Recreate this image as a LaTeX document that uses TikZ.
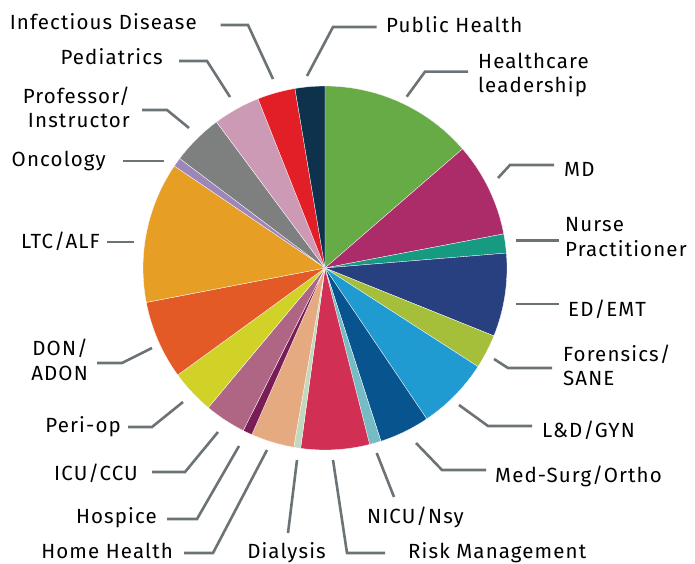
\documentclass[tikz,border=0pt]{standalone}
\usepackage{fontspec}
\setmainfont[LetterSpace=5.5]{Fira Sans}
\definecolor{leadgray}{HTML}{6B7376}
\definecolor{cHC}{HTML}{67AB46}
\definecolor{cMD}{HTML}{AC2C6A}
\definecolor{cNP}{HTML}{169A82}
\definecolor{cED}{HTML}{283F80}
\definecolor{cFO}{HTML}{A6BF3A}
\definecolor{cLD}{HTML}{1F9BD1}
\definecolor{cMS}{HTML}{07548E}
\definecolor{cNI}{HTML}{76BCC4}
\definecolor{cRM}{HTML}{D13054}
\definecolor{cDI}{HTML}{C2D8C0}
\definecolor{cHH}{HTML}{E6AA80}
\definecolor{cHO}{HTML}{7A1D56}
\definecolor{cIC}{HTML}{AE6684}
\definecolor{cPO}{HTML}{D0D228}
\definecolor{cDO}{HTML}{E45A27}
\definecolor{cLT}{HTML}{E79E24}
\definecolor{cON}{HTML}{9D87B8}
\definecolor{cPR}{HTML}{7E8080}
\definecolor{cPE}{HTML}{CD9AB6}
\definecolor{cID}{HTML}{E21F27}
\definecolor{cPH}{HTML}{0F324C}
\begin{document}
\begin{tikzpicture}[x=1pt,y=-1pt,
  lead/.style={draw=leadgray, line width=2.6pt},
  lab/.style={inner sep=0pt, font=\fontsize{20.5}{24.4}\selectfont, text=black},
  labR/.style={lab, anchor=base west, align=left},
  labL/.style={lab, anchor=base east, align=right},
  slicefill/.style={fill=#1, draw=white, line width=0.3pt}]
\useasboundingbox (0,0) rectangle (695,564);
\begin{scope}[shift={(325,268)}, yscale=-1]
\def\psl#1#2#3{\path[slicefill=#3] (0,0) -- (#1:182) arc[start angle=#1, end angle=#2, radius=182] -- cycle;}
\psl{90}{40.9}{cHC}
\psl{40.9}{10.8}{cMD}
\psl{10.8}{4.7}{cNP}
\psl{4.7}{-21.9}{cED}
\psl{-21.9}{-32.8}{cFO}
\psl{-32.8}{-56}{cLD}
\psl{-56}{-72.1}{cMS}
\psl{-72.1}{-75.8}{cNI}
\psl{-75.8}{-97.7}{cRM}
\psl{-97.7}{-99.9}{cDI}
\psl{-99.9}{-113.7}{cHH}
\psl{-113.7}{-116.7}{cHO}
\psl{-116.7}{-129.9}{cIC}
\psl{-129.9}{-144}{cPO}
\psl{-144}{-169.1}{cDO}
\psl{-169.1}{-214.1}{cLT}
\psl{-214.1}{-217}{cON}
\psl{-217}{-233.4}{cPR}
\psl{-233.4}{-248.4}{cPE}
\psl{-248.4}{-260.5}{cID}
\psl{-260.5}{-270}{cPH}
\end{scope}
% leaders
\draw[lead] (273,79) -- (248,25) -- (220.7,25);
\draw[lead] (307,76) -- (333,27) -- (376.7,27);
\draw[lead] (230,97) -- (207,61) -- (179,61);
\draw[lead] (189,128) -- (167,110) -- (142,110);
\draw[lead] (164,161) -- (123,161);
\draw[lead] (406.7,96.7) -- (425,71.7) -- (468,71.7);
\draw[lead] (498,178) -- (510,165) -- (554,165);
\draw[lead] (515.7,240.7) -- (559,240.7);
\draw[lead] (515.7,304) -- (559,304);
\draw[lead] (494,359) -- (508,368) -- (552,368);
\draw[lead] (459,405) -- (488,426) -- (532,426);
\draw[lead] (416,443) -- (442,470) -- (486,470);
\draw[lead] (376.7,453) -- (394,497);
\draw[lead] (333,460) -- (347,553) -- (385,553);
\draw[lead] (297,460) -- (288,533);
\draw[lead] (267,450) -- (213,553) -- (184,553);
\draw[lead] (239,446) -- (197,519) -- (167,519);
\draw[lead] (218,432) -- (185,472) -- (152,472);
\draw[lead] (183,402) -- (152,427) -- (128,427);
\draw[lead] (152,348) -- (122,363) -- (97,363);
\draw[lead] (134,242) -- (107,242);
% labels (multi-line nodes are placed by the baseline of their last line)
\node[labR] (lPH) at (386,32.3) {Public Health};
\node[labR] (lHC) at (478,92.7) {Healthcare\\leadership};
\node[labR] (lMD) at (564,176.7) {MD};
\node[labR] (lNP) at (565,256) {Nurse\\Practitioner};
\node[labR] (lED) at (568,316.7) {ED/EMT};
\node[labR] (lFO) at (563,385.4) {Forensics/\\SANE};
\node[labR] (lLD) at (542,437.3) {L\&D/GYN};
\node[labR] (lMS) at (495,482.7) {Med-Surg/Ortho};
\node[labR] (lNI) at (367,523.3) {NICU/Nsy};
\node[labR] (lRM) at (408,558.3) {Risk Management};
\node[labL] (lID) at (197,30) {Infectious Disease};
\node[labL] (lPE) at (163,65) {Pediatrics};
\node[labL] (lPR) at (130,128) {Professor/\\Instructor};
\node[labL] (lON) at (106,166) {Oncology};
\node[labL] (lLT) at (100,248.3) {LTC/ALF};
\node[labL] (lDO) at (88,380) {DON/\\ADON};
\node[labL] (lPO) at (121,432.3) {Peri-op};
\node[labL] (lIC) at (138,480) {ICU/CCU};
\node[labL] (lHO) at (157,523.3) {Hospice};
\node[labL] (lHH) at (173,558.3) {Home Health};
\node[lab, anchor=base] (lDI) at (286.5,558.3) {Dialysis};
\end{tikzpicture}
\end{document}
